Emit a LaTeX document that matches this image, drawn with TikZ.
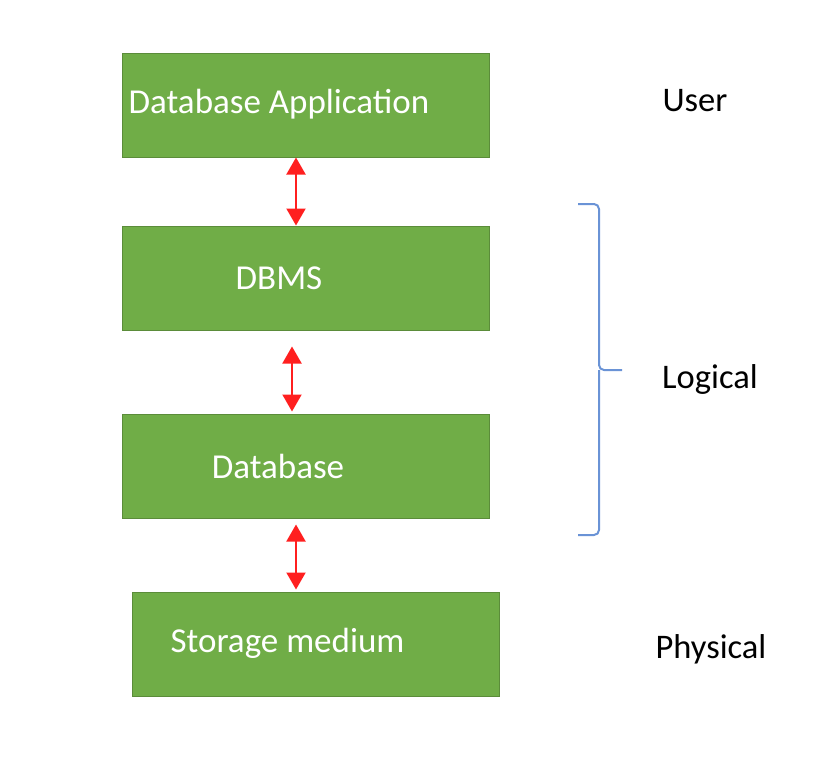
\documentclass[tikz,border=0pt]{standalone}
\usepackage{fontspec}
\setmainfont{Carlito}
\usetikzlibrary{
    arrows.meta,
    positioning,
    calc
}
\definecolor{boxgreen}{HTML}{70AD47}
\definecolor{boxedge}{HTML}{5B8C3A}
\definecolor{linkred}{HTML}{FF1F1F}
\definecolor{braceblue}{HTML}{6A93D6}
\tikzset{
    % --- Layer block (green rectangle) ---
    layer/.style = {
        rectangle, draw=boxedge, fill=boxgreen, line width=1pt,
        minimum width=367pt, minimum height=104pt,
        inner sep=0pt
    },
    % --- Text inside a layer block ---
    layer text/.style = {
        font=\fontsize{35}{40}\selectfont, text=white,
        inner sep=0pt
    },
    % --- Level label (right column) ---
    level/.style = {
        font=\fontsize{34.5}{40}\selectfont, text=black,
        inner sep=0pt
    },
    % --- Two-way link between layers ---
    link/.style = {
        {Triangle[width=19pt,length=17pt]}-{Triangle[width=19pt,length=17pt]},
        draw=linkred, line width=2pt
    },
    % --- Grouping brace ---
    group brace/.style = {
        draw=braceblue, line width=2pt, rounded corners=5pt
    }
}

\begin{document}
\begin{tikzpicture}[x=1pt, y=-1pt]

\useasboundingbox (0,0) rectangle (834,764);

% ---------------------------------------------------------
% Layer blocks
% ---------------------------------------------------------
\node[layer] (App)     at (305.5, 105) {};
\node[layer] (DBMS)    at (305.5, 278) {};
\node[layer] (DB)      at (305.5, 466) {};
\node[layer] (Storage) at (315.5, 644) {};

\node[layer text] (AppText)     at (279, 104) {Database Application};
\node[layer text] (DBMSText)    at (279, 278) {DBMS};
\node[layer text] (DBText)      at (278, 466) {Database};
\node[layer text] (StorageText) at (287.5, 643) {Storage medium};

% ---------------------------------------------------------
% Links
% ---------------------------------------------------------
\draw[link] ([xshift=-9.5pt]App.south) -- ([xshift=-9.5pt]DBMS.north);
\draw[link, shorten <=16pt, shorten >=2pt]
    ([xshift=-13.5pt]DBMS.south) -- ([xshift=-13.5pt]DB.north);
\draw[link, shorten <=6pt, shorten >=2pt]
    ([xshift=-9.5pt]DB.south) -- ([xshift=-19.5pt]Storage.north);

% ---------------------------------------------------------
% Level labels
% ---------------------------------------------------------
\node[level] (User)     at (695, 101) {User};
\node[level] (Logical)  at (710, 379) {Logical};
\node[level] (Physical) at (711, 649) {Physical};

% ---------------------------------------------------------
% Brace grouping DBMS and Database
% ---------------------------------------------------------
\coordinate (BraceTop) at (578, 204);
\coordinate (BraceTip) at (622, 370);
\coordinate (BraceBot) at (578, 535);
\draw[group brace] (BraceTop) -| (599, 370) -- (BraceTip);
\draw[group brace] (BraceBot) -| (599, 370);

\end{tikzpicture}
\end{document}
